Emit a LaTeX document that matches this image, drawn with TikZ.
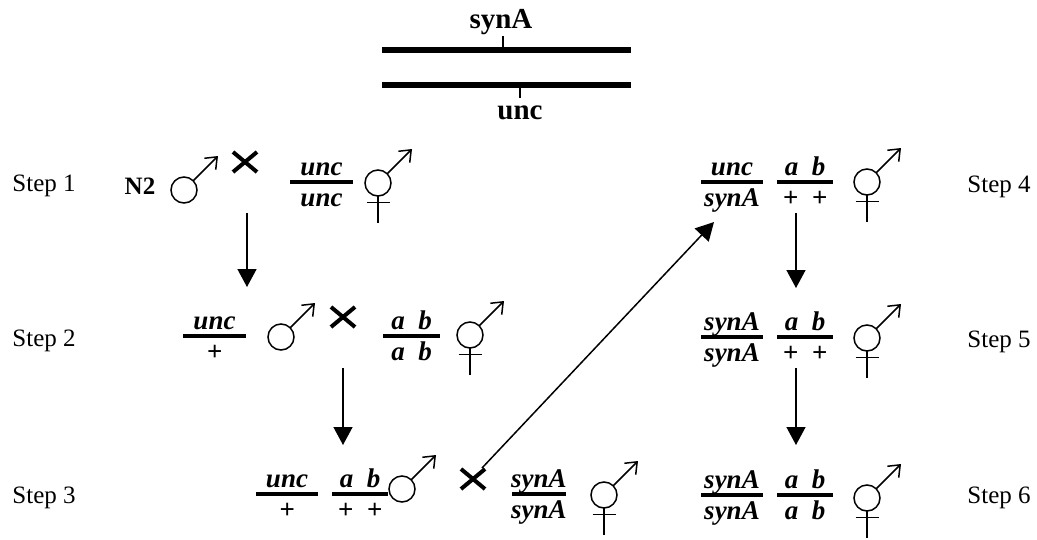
\documentclass[tikz,border=0pt]{standalone}
\usepackage{fontspec}
\setmainfont{Liberation Serif}
\usetikzlibrary{arrows.meta}

\tikzset{
	geno/.style={font=\fontsize{27}{27}\selectfont\bfseries\itshape, inner sep=0pt, anchor=base},
	steplabel/.style={font=\fontsize{25}{25}\selectfont, inner sep=0pt, anchor=base},
	locus/.style={font=\fontsize{29}{29}\selectfont\bfseries, inner sep=0pt, anchor=base},
	bar/.style={line width=4pt},
	arr/.style={line width=1.5pt, -{Triangle[length=18pt,width=19pt]}},
	male/.pic={
		\draw[line width=1.5pt] (0,0) circle (13);
		\draw[line width=1.5pt, -{Straight Barb[length=10pt,width=16pt]}] (9.2,-9.2) -- (34,-34);
	},
	herm/.pic={
		\draw[line width=1.5pt] (0,0) circle (13);
		\draw[line width=1.5pt, -{Straight Barb[length=10pt,width=16pt]}] (9.2,-9.2) -- (34,-34);
		\draw[line width=1.5pt] (0,13) -- (0,40) (-11.5,19.5) -- (11.5,19.5);
	},
	mating/.pic={
		\draw[line width=4pt] (-12,-10) -- (12,10) (-12,10) -- (12,-10);
	}
}

\begin{document}
\begin{tikzpicture}[x=1pt,y=-1pt]
	\useasboundingbox (0,0) rectangle (1037,539);

	% chromosomes
	\draw[line width=6pt] (382,49.5) -- (631,49.5);
	\draw[line width=6pt] (382,84.5) -- (631,84.5);
	\draw[line width=1.2pt] (503,36) -- (503,47);
	\draw[line width=1.2pt] (520,87) -- (520,98);
	\node[locus] (synA) at (501,28) {synA};
	\node[locus] (unc) at (520,119) {unc};

	% step labels
	\foreach \n/\x/\y in {1/44/191, 2/44/346, 3/44/503, 4/999/192, 5/999/347, 6/999/503}{
		\node[steplabel] (step\n) at (\x,\y) {Step \n};
	}

	% genotypes
	\foreach \nm/\x/\y/\w/\up/\dn in {
		g1/321.5/182/63/unc/unc,
		g2a/214.5/336/63/unc/+, g2b/411.5/336/57/a\ \ b/a\ \ b,
		g3a/287/494/62/unc/+, g3b/360/494/56/a\ \ b/+\ \ +, g3c/539/494/54/synA/synA,
		g4a/732/182/62/unc/synA, g4b/805/182/56/a\ \ b/+\ \ +,
		g5a/732/337/62/synA/synA, g5b/805/337/56/a\ \ b/+\ \ +,
		g6a/732/495/62/synA/synA, g6b/805/495/56/a\ \ b/a\ \ b}{
		\draw[bar] ({\x-\w/2},\y) -- ({\x+\w/2},\y);
		\node[geno] (\nm t) at (\x,\y-7) {\up};
		\node[geno] (\nm b) at (\x,\y+24) {\dn};
	}
	\node[font=\fontsize{25}{25}\selectfont\bfseries, inner sep=0pt, anchor=base] (n2) at (140,194) {N2};

	% sexes and crosses
	\pic at (184,190) {male};
	\pic at (281,337) {male};
	\pic at (402,489) {male};
	\foreach \x/\y in {378/183, 470/335, 604/495, 867/182, 867/338, 867/498}{
		\pic at (\x,\y) {herm};
	}
	\foreach \x/\y in {245/162, 343/317, 473/479}{
		\pic at (\x,\y) {mating};
	}

	% arrows
	\coordinate (a1) at (247,213);
	\coordinate (b1) at (247,287);
	\coordinate (a2) at (343,368);
	\coordinate (b2) at (343,445);
	\coordinate (a3) at (482,468);
	\coordinate (b3) at (714,222);
	\coordinate (a4) at (796,213);
	\coordinate (b4) at (796,288);
	\coordinate (a5) at (796,368);
	\coordinate (b5) at (796,445);
	\foreach \i in {1,...,5}{
		\draw[arr] (a\i) -- (b\i);
	}
\end{tikzpicture}
\end{document}
